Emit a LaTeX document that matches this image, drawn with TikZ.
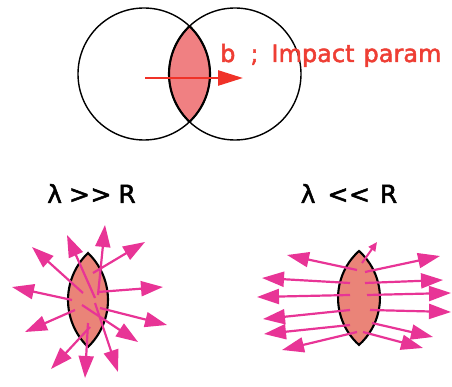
\documentclass[tikz,border=0pt]{standalone}
\usepackage{fontspec}
\setmainfont{DejaVu Sans}[FakeBold=2]
\usetikzlibrary{arrows.meta}
\definecolor{mag}{RGB}{232,52,150}
\definecolor{lensfill}{RGB}{234,132,120}
\definecolor{toplens}{RGB}{240,128,130}
\definecolor{redarr}{RGB}{240,50,40}
\definecolor{redtxt}{RGB}{238,62,52}
\begin{document}
\begin{tikzpicture}[x=1pt,y=-1pt,
  marr/.style={draw=mag,line width=2.2pt,-{Triangle[length=22pt,width=15pt]}},
  smallarr/.style={draw=mag,line width=2pt,-{Triangle[length=9pt,width=8pt]}},
  redarrow/.style={draw=redarr,line width=2.6pt,-{Triangle[length=25pt,width=15pt]}},
  ring/.style={draw=black,line width=1.4pt},
  lensline/.style={draw=black,line width=2.1pt},
  lbl/.style={font=\fontsize{24}{28}\selectfont,inner sep=0pt}]
\useasboundingbox (0,0) rectangle (452,387);
% ---- top: overlapping circles ----
\begin{scope}
  \clip (144,74) circle [radius=66];
  \fill[toplens] (235,74) circle [radius=66];
\end{scope}
\draw[ring] (144,74) circle [radius=66];
\draw[ring] (235,74) circle [radius=66];
\draw[lensline] (144,74) ++(-46.4:66) arc[start angle=-46.4,end angle=46.4,radius=66];
\draw[lensline] (235,74) ++(133.6:66) arc[start angle=133.6,end angle=226.4,radius=66];
\coordinate (ra) at (145,78);
\coordinate (rb) at (243,78);
\draw[redarrow] (ra) -- (rb);
\node[lbl,anchor=base west,text=redtxt] (btxt) at (220,62) {b\hspace{15pt};\hspace{13pt}Impact\hspace{9pt}param};
% ---- labels ----
\node[lbl,anchor=base,font=\fontsize{25}{29}\selectfont] (lgt) at (91.5,203) {λ\hspace{7pt}>\kern0.5pt>\hspace{7pt}R};
\node[lbl,anchor=base,font=\fontsize{25}{29}\selectfont] (llt) at (349,203) {λ\hspace{12pt}<\kern0.5pt<\hspace{10pt}R};
% ---- lower left lens ----
\draw[lensline,fill=lensfill] (88,253) arc[start angle=-46.1,end angle=46.1,radius=65.2]
   arc[start angle=133.9,end angle=226.1,radius=65.2] -- cycle;
\draw[marr] (83,293) -- (32,247);
\draw[marr] (95,298) -- (67,235);
\draw[marr] (98,295) -- (105,225);
\draw[marr] (93,273) -- (145,242);
\draw[marr] (98,292) -- (163,287);
\draw[marr] (72,300) -- (12,287);
\draw[marr] (100,308) -- (167,325);
\draw[marr] (75,310) -- (25,332);
\draw[marr] (82,305) -- (138,342);
\draw[marr] (95,303) -- (118,372);
\draw[marr] (88,323) -- (85,378);
\draw[marr] (90,327) -- (51,369);
% ---- lower right lens ----
\draw[lensline,fill=lensfill] (359,251) arc[start angle=-48.1,end angle=48.1,radius=63.1]
   arc[start angle=131.9,end angle=228.1,radius=63.1] -- cycle;
\draw[marr] (357,270) -- (287,255);
\draw[marr] (350,283) -- (262,278);
\draw[marr] (350,295) -- (257,297);
\draw[marr] (350,310) -- (263,319);
\draw[marr] (350,325) -- (264,334);
\draw[marr] (357,332) -- (282,350);
\draw[marr] (365,272) -- (440,256);
\draw[marr] (365,283) -- (443,280);
\draw[marr] (367,295) -- (451,293);
\draw[marr] (370,310) -- (451,312);
\draw[marr] (372,323) -- (433,337);
\draw[marr] (363,332) -- (423,348);
\draw[smallarr] (362,263) -- (377,242);
\end{tikzpicture}
\end{document}
